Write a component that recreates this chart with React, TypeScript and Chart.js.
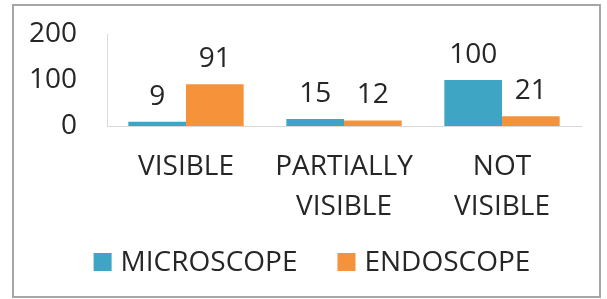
import { useEffect, useRef } from "react";
import { Chart, registerables } from "chart.js";

Chart.register(...registerables);

const categories: string[][] = [["VISIBLE"], ["PARTIALLY", "VISIBLE"], ["NOT", "VISIBLE"]];
const seriesNames = ["MICROSCOPE", "ENDOSCOPE"];
const microscope = [9, 15, 100];
const endoscope = [91, 12, 21];
const yMin = 0;
const yMax = 200;
const yStep = 100;

const FONT = "'Open Sans', sans-serif";
const TEXT = "#262626";
const BLUE = "#3ea5c4";
const ORANGE = "#f5923a";
const AXIS = "#d9d9d9";

const framePlugin = {
  id: "frame",
  beforeDraw(chart: any) {
    const ctx = chart.ctx;
    ctx.save();
    ctx.fillStyle = "#ffffff";
    ctx.fillRect(0, 0, chart.width, chart.height);
    ctx.strokeStyle = "#a6a6a6";
    ctx.lineWidth = 2;
    ctx.strokeRect(13, 5, 587, 292);
    ctx.restore();
  },
};

const valueLabels = {
  id: "valueLabels",
  afterDatasetsDraw(chart: any) {
    const ctx = chart.ctx;
    ctx.save();
    ctx.font = `28px ${FONT}`;
    ctx.fillStyle = TEXT;
    ctx.textAlign = "center";
    ctx.textBaseline = "middle";
    chart.data.datasets.forEach((ds: any, di: number) => {
      const meta = chart.getDatasetMeta(di);
      meta.data.forEach((el: any, i: number) => {
        ctx.fillText(String(ds.data[i]), el.x, el.y - 25);
      });
    });
    ctx.restore();
  },
};

// Bottom legend drawn from the chart's datasets
const bottomLegend = {
  id: "bottomLegend",
  afterDraw(chart: any) {
    const ctx = chart.ctx;
    const box = 18;
    const textGap = 9;
    const itemGap = 40;
    const centerX = 312;
    const centerY = 262;
    ctx.save();
    ctx.font = `28px ${FONT}`;
    ctx.textBaseline = "middle";
    ctx.textAlign = "left";
    const items = chart.data.datasets.map((ds: any) => ({
      text: ds.label,
      color: ds.backgroundColor,
      w: ctx.measureText(ds.label).width,
    }));
    const total =
      items.reduce((s: number, it: any) => s + box + textGap + it.w, 0) + itemGap * (items.length - 1);
    let x = centerX - total / 2;
    items.forEach((it: any) => {
      ctx.fillStyle = it.color;
      ctx.fillRect(x, centerY - box / 2, box, box);
      ctx.fillStyle = TEXT;
      ctx.fillText(it.text, x + box + textGap, centerY + 1);
      x += box + textGap + it.w + itemGap;
    });
    ctx.restore();
  },
};

export default function App() {
  const ref = useRef<HTMLCanvasElement>(null);
  useEffect(() => {
    const chart = new Chart(ref.current!, {
      type: "bar",
      data: {
        labels: categories,
        datasets: [
          { label: seriesNames[0], data: microscope, backgroundColor: BLUE, borderWidth: 0 },
          { label: seriesNames[1], data: endoscope, backgroundColor: ORANGE, borderWidth: 0 },
        ],
      },
      options: {
        animation: false,
        responsive: false,
        devicePixelRatio: 1,
        layout: { padding: { left: 0, right: 26, top: 34, bottom: 69 } },
        datasets: { bar: { categoryPercentage: 0.73, barPercentage: 1 } },
        scales: {
          x: {
            grid: { display: false, drawTicks: false },
            border: { display: true, color: AXIS, width: 1 },
            ticks: {
              color: TEXT,
              font: { family: FONT, size: 28, lineHeight: 40 / 28 },
              padding: 21,
              maxRotation: 0,
              minRotation: 0,
              autoSkip: false,
            },
            afterFit: (s: any) => {
              s.height = 104;
              s.paddingLeft = 0;
              s.paddingRight = 0;
            },
          },
          y: {
            min: yMin,
            max: yMax,
            grid: { display: false, drawTicks: false },
            border: { display: true, color: AXIS, width: 1 },
            ticks: {
              stepSize: yStep,
              color: TEXT,
              font: { family: FONT, size: 28 },
              padding: 30,
            },
            afterFit: (s: any) => {
              s.width = 107;
              s.paddingTop = 0;
              s.paddingBottom = 0;
            },
          },
        },
        plugins: {
          legend: { display: false },
          tooltip: { enabled: false },
        },
      },
      plugins: [framePlugin, valueLabels, bottomLegend],
    });
    return () => chart.destroy();
  }, []);
  return (
    <div style={{ position: "fixed", left: 0, top: 0, width: 607, height: 299, background: "#fff" }}>
      <canvas ref={ref} width={607} height={299} style={{ display: "block" }} />
    </div>
  );
}
